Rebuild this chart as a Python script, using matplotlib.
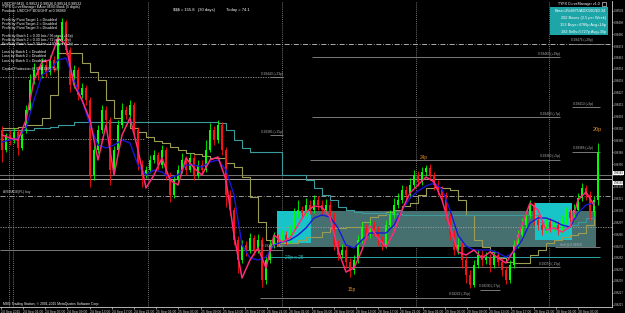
import matplotlib
matplotlib.use("Agg")
import matplotlib.pyplot as plt
from matplotlib.patches import Rectangle

# ---------------- data ----------------
open_first = 0.98390
close = [0.98370,0.98385,0.98380,0.98388,0.98372,0.98390,0.98410,0.98440,0.98450,0.98445,
 0.98455,0.98448,0.98460,0.98452,0.98480,0.98498,0.98470,0.98435,0.98450,0.98425,
 0.98432,0.98420,0.98345,0.98370,0.98390,0.98410,0.98400,0.98350,0.98370,0.98395,
 0.98410,0.98405,0.98415,0.98390,0.98355,0.98345,0.98350,0.98360,0.98365,0.98355,
 0.98370,0.98345,0.98325,0.98340,0.98350,0.98360,0.98350,0.98362,0.98345,0.98355,
 0.98350,0.98370,0.98390,0.98380,0.98395,0.98370,0.98325,0.98310,0.98280,0.98260,
 0.98275,0.98270,0.98282,0.98270,0.98280,0.98240,0.98260,0.98275,0.98282,0.98280,
 0.98285,0.98280,0.98290,0.98305,0.98310,0.98307,0.98315,0.98310,0.98320,0.98315,
 0.98310,0.98315,0.98305,0.98275,0.98265,0.98270,0.98258,0.98250,0.98260,0.98280,
 0.98292,0.98285,0.98295,0.98290,0.98280,0.98275,0.98295,0.98305,0.98315,0.98320,
 0.98330,0.98325,0.98335,0.98345,0.98338,0.98348,0.98352,0.98345,0.98335,0.98330,
 0.98325,0.98305,0.98285,0.98270,0.98275,0.98260,0.98245,0.98235,0.98255,0.98265,
 0.98260,0.98262,0.98255,0.98265,0.98258,0.98250,0.98240,0.98255,0.98275,0.98285,
 0.98295,0.98305,0.98315,0.98300,0.98295,0.98290,0.98298,0.98292,0.98295,0.98290,
 0.98300,0.98308,0.98302,0.98310,0.98322,0.98332,0.98325,0.98308,0.98320,0.98368]
high = [0.98394,0.98387,0.98390,0.98392,0.98391,0.98393,0.98415,0.98446,0.98457,0.98454,
 0.98462,0.98460,0.98465,0.98464,0.98485,0.98502,0.98500,0.98473,0.98455,0.98453,
 0.98437,0.98435,0.98423,0.98375,0.98395,0.98415,0.98414,0.98403,0.98374,0.98400,
 0.98417,0.98414,0.98420,0.98418,0.98393,0.98360,0.98354,0.98365,0.98370,0.98368,
 0.98375,0.98373,0.98348,0.98344,0.98355,0.98367,0.98364,0.98367,0.98365,0.98360,
 0.98360,0.98380,0.98397,0.98394,0.98400,0.98398,0.98373,0.98330,0.98313,0.98284,
 0.98280,0.98279,0.98287,0.98285,0.98286,0.98283,0.98265,0.98280,0.98288,0.98286,
 0.98290,0.98289,0.98295,0.98312,0.98320,0.98314,0.98322,0.98320,0.98325,0.98324,
 0.98320,0.98321,0.98319,0.98308,0.98280,0.98276,0.98274,0.98262,0.98265,0.98285,
 0.98298,0.98296,0.98300,0.98299,0.98294,0.98284,0.98300,0.98310,0.98322,0.98327,
 0.98335,0.98334,0.98342,0.98350,0.98349,0.98353,0.98355,0.98356,0.98348,0.98340,
 0.98334,0.98328,0.98308,0.98290,0.98282,0.98278,0.98264,0.98250,0.98260,0.98270,
 0.98270,0.98268,0.98266,0.98270,0.98268,0.98262,0.98254,0.98260,0.98280,0.98290,
 0.98302,0.98310,0.98320,0.98318,0.98305,0.98300,0.98303,0.98302,0.98300,0.98299,
 0.98305,0.98313,0.98311,0.98316,0.98327,0.98337,0.98335,0.98329,0.98324,0.98377]
low = [0.98358,0.98368,0.98375,0.98377,0.98365,0.98370,0.98387,0.98408,0.98436,0.98440,
 0.98442,0.98443,0.98445,0.98448,0.98450,0.98476,0.98465,0.98428,0.98432,0.98420,
 0.98422,0.98415,0.98333,0.98340,0.98367,0.98387,0.98394,0.98335,0.98346,0.98368,
 0.98392,0.98401,0.98402,0.98386,0.98350,0.98333,0.98342,0.98347,0.98357,0.98350,
 0.98352,0.98340,0.98318,0.98322,0.98337,0.98347,0.98345,0.98348,0.98340,0.98342,
 0.98346,0.98348,0.98368,0.98375,0.98377,0.98365,0.98313,0.98305,0.98275,0.98247,
 0.98257,0.98264,0.98267,0.98265,0.98267,0.98233,0.98236,0.98257,0.98272,0.98274,
 0.98277,0.98275,0.98277,0.98287,0.98302,0.98302,0.98304,0.98306,0.98307,0.98310,
 0.98305,0.98307,0.98300,0.98270,0.98260,0.98262,0.98252,0.98243,0.98246,0.98257,
 0.98277,0.98280,0.98282,0.98284,0.98274,0.98270,0.98272,0.98292,0.98302,0.98312,
 0.98317,0.98321,0.98322,0.98332,0.98334,0.98335,0.98344,0.98340,0.98330,0.98325,
 0.98320,0.98300,0.98280,0.98265,0.98266,0.98252,0.98237,0.98232,0.98233,0.98252,
 0.98254,0.98256,0.98248,0.98252,0.98254,0.98244,0.98236,0.98237,0.98252,0.98272,
 0.98282,0.98292,0.98302,0.98295,0.98290,0.98285,0.98287,0.98288,0.98289,0.98285,
 0.98287,0.98296,0.98298,0.98299,0.98307,0.98319,0.98320,0.98300,0.98304,0.98315]

# indicator lines, one value per two bars
ma_fast = [0.98385,0.98382,0.98380,0.98400,0.98440,0.98458,0.98460,0.98482,0.98475,0.98435,
 0.98420,0.98400,0.98360,0.98395,0.98345,0.98385,0.98402,0.98370,0.98332,0.98345,
 0.98362,0.98340,0.98335,0.98362,0.98352,0.98345,0.98360,0.98363,0.98340,0.98285,
 0.98242,0.98260,0.98272,0.98252,0.98285,0.98278,0.98282,0.98295,0.98308,0.98314,
 0.98313,0.98303,0.98270,0.98248,0.98252,0.98270,0.98294,0.98282,0.98273,0.98288,
 0.98310,0.98327,0.98335,0.98343,0.98338,0.98320,0.98293,0.98268,0.98265,0.98270,
 0.98262,0.98268,0.98262,0.98257,0.98270,0.98295,0.98317,0.98310,0.98290,0.98292,
 0.98288,0.98293,0.98320,0.98328,0.98315]
ma_slow = [0.98378,0.98380,0.98382,0.98392,0.98420,0.98445,0.98450,0.98460,0.98462,0.98440,
 0.98420,0.98395,0.98375,0.98372,0.98375,0.98380,0.98377,0.98355,0.98345,0.98350,
 0.98348,0.98342,0.98345,0.98355,0.98355,0.98353,0.98358,0.98360,0.98350,0.98325,
 0.98275,0.98262,0.98260,0.98263,0.98275,0.98278,0.98280,0.98285,0.98292,0.98302,
 0.98305,0.98303,0.98292,0.98275,0.98272,0.98280,0.98287,0.98287,0.98287,0.98295,
 0.98310,0.98322,0.98329,0.98334,0.98337,0.98331,0.98310,0.98285,0.98274,0.98270,
 0.98270,0.98270,0.98267,0.98263,0.98268,0.98280,0.98297,0.98302,0.98302,0.98299,
 0.98295,0.98293,0.98307,0.98315,0.98317]
trail_olive = [0.98392,0.98392,0.98393,0.98395,0.98395,0.98402,0.98425,0.98467,0.98467,0.98467,
 0.98457,0.98448,0.98440,0.98420,0.98402,0.98398,0.98392,0.98388,0.98383,0.98379,
 0.98377,0.98373,0.98370,0.98367,0.98366,0.98364,0.98362,0.98362,0.98357,0.98353,
 0.98343,0.98323,0.98298,0.98280,0.98277,0.98277,0.98277,0.98280,0.98283,0.98283,
 0.98288,0.98292,0.98292,0.98293,0.98293,0.98298,0.98303,0.98305,0.98308,0.98310,
 0.98314,0.98317,0.98325,0.98332,0.98333,0.98332,0.98330,0.98320,0.98305,0.98280,
 0.98273,0.98268,0.98262,0.98258,0.98257,0.98257,0.98265,0.98270,0.98277,0.98280,
 0.98283,0.98285,0.98287,0.98295,0.98315]
trail_teal = [0.98390,0.98390,0.98390,0.98390,0.98392,0.98392,0.98393,0.98395,
 0.98395,0.98398,0.98398,0.98398,0.98398,
 0.98398,0.98398,0.98398,0.98398,0.98398,0.98398,0.98398,0.98398,0.98398,0.98398,0.98398,0.98398,0.98398,0.98398,
 0.98397,
 0.98390,0.98380,0.98372,0.98368,0.98368,0.98368,0.98368,
 0.98345,0.98345,0.98345,0.98340,0.98332,0.98325,0.98320,0.98313,0.98310,0.98308,0.98307,
 0.98307,0.98307,0.98306,0.98306,0.98305,0.98305,0.98305,0.98305,0.98305,0.98305,0.98305,
 0.98305,0.98305,0.98305,0.98305,0.98305,0.98305,0.98305,0.98305,0.98305,0.98305,
 0.98298,0.98295,0.98293,0.98293,0.98295,0.98298,0.98302,0.98305]

# horizontal price levels
level_prices = [0.98476, 0.98463, 0.98443, 0.98413, 0.98403, 0.98385, 0.98368, 0.98360,
                0.98270, 0.98253, 0.98230, 0.98222]
level_texts = ["0.98476 (+28p)", "0.98463 (+19p)", "0.98443 (+23p)", "0.98413 (+9p)",
               "0.98403 (+7p)", "0.98385 (+15p)", "0.98368 (+2p)", "0.98360 (+5p)",
               "0.98270 (-13p)", "0.98253 (-15p)", "0.98230 (-27p)", "0.98222 (-35p)"]
ref_lines = [0.98345, 0.98341, 0.98324, 0.98293, 0.98381]
price_ticks = [0.98509,0.98498,0.98486,0.98474,0.98462,0.98451,0.98439,0.98427,0.98415,0.98403,
               0.98392,0.98380,0.98368,0.98356,0.98345,0.98333,0.98321,0.98309,0.98297,0.98286,
               0.98274,0.98262,0.98250,0.98239,0.98227,0.98215]
time_labels = ["24 Sep 2015"] + [f"{d} Sep {h}" for d, h in [
    ("24","01:00"),("24","05:00"),("24","09:00"),("24","13:00"),("24","17:00"),("24","21:00"),
    ("25","01:00"),("25","05:00"),("25","09:00"),("25","13:00"),("25","17:00"),("25","21:00"),
    ("28","01:00"),("28","05:00"),("28","09:00"),("28","13:00"),("28","17:00"),("28","21:00"),
    ("29","01:00"),("29","05:00"),("29","09:00"),("29","13:00"),("29","17:00"),("29","21:00"),
    ("30","01:00"),("30","05:00")]]
info_lines = ["USDCHF,M15  0.98521 0.98526 0.98514 0.98522",
              "TYFX CurveManager EA on MSG Bank (5 digits)",
              "Position: USDCHF BOUGHT at 0.98989",
              "", "Profit by Pivot Target 1 = Disabled",
              "Profit by Pivot Target 2 = Disabled",
              "Profit by Pivot Target 3 = Disabled", "",
              "Profit by Batch 1 = 0.30 lots / 36 pips (+16p)",
              "Profit by Batch 2 = 0.30 lots / 72 pips (+0p)",
              "Profit by Batch 3 = 0.30 lots / 120 pips (+0p)", "",
              "Loss by Batch 1 = Disabled", "Loss by Batch 2 = Disabled",
              "Loss by Batch 3 = Disabled", "",
              "Capital Protection @ 0.98330 (-5p)"]
box_lines = ["Base=25cM75/ADX100/$0.34", "202 Boxes (2.5 per Week)",
             "153 Buys=4786p Avg+14p", "182 Sells=5727p Avg+30p"]

# ---------------- layout ----------------
W, H = 625, 313
plt.rcParams['font.family'] = ['Liberation Sans', 'DejaVu Sans']
fig = plt.figure(figsize=(W / 100, H / 100), dpi=100, facecolor="black")
ax = fig.add_axes([0, 6 / H, 612 / W, 306 / H], facecolor="black")
FS = 2.6

def px(xp):      # pixel x -> bar coordinate
    return (xp - 2) / 4.0

def py(yp):      # pixel y -> price
    return 0.98520 - yp / 100000.0

ax.set_xlim(px(0), px(612))
ax.set_ylim(py(307), py(1))

n = len(close)
opens = [open_first] + close[:-1]

# day separators
for xp in [9, 13, 148, 282, 416, 549]:
    ax.axvline(px(xp), color="#9a9a9a", lw=0.6, ls=(0, (1, 1.5)), zorder=1)

# boxes
ax.add_patch(Rectangle((px(277), py(247)), px(596) - px(277), py(211) - py(247),
                       facecolor="#46706f", edgecolor="none", zorder=1.5))
ax.add_patch(Rectangle((px(277), py(243)), px(311) - px(277), py(211) - py(243),
                       facecolor="#19c4c8", edgecolor="none", zorder=1.6))
ax.add_patch(Rectangle((px(535), py(240)), px(572) - px(535), py(203) - py(240),
                       facecolor="#19c4c8", edgecolor="none", zorder=1.6))

# reference lines
ax.axhline(level_prices[0], color="#c8c8c8", lw=0.6, ls=(0, (6, 2, 1, 2)), zorder=2)
ax.axhline(ref_lines[0], color="#8a8a8a", lw=0.6, zorder=2)
ax.axhline(ref_lines[1], color="#bdbdbd", lw=0.6, zorder=2)
ax.axhline(ref_lines[2], color="#b0b0b0", lw=0.6, ls=(0, (6, 2, 1, 2)), zorder=2)
ax.axhline(ref_lines[3], color="#a0a0a0", lw=0.6, ls=(0, (1.5, 1.5)), zorder=2)
ax.hlines(level_prices[2], px(0), px(283), color="#a0a0a0", lw=0.6, ls=(0, (1.5, 1.5)), zorder=2)
ax.hlines(ref_lines[4], px(0), px(145), color="#a0a0a0", lw=0.6, ls=(0, (1.5, 1.5)), zorder=2)

segs = [(570, 604), (312, 560), (270, 283), (572, 600), (312, 560), (270, 283), (572, 600),
        (310, 560), (0, 283), (310, 560), (480, 500), (260, 470)]
for (x0, x1), p, t in zip(segs, level_prices, level_texts):
    if x0 > 0 or x1 < 600:
        ax.hlines(p, px(x0), px(x1), color="#8c8c8c", lw=0.6, zorder=2)
    right = x1 < 590
    ax.text(px(x1) if right else px(x0 + 1), p + 0.000015, t, color="#b0b0b0",
            fontsize=2.3, ha="right" if right else "left", va="bottom", zorder=6)
ax.hlines(0.98263, px(270), px(600), color="#2aa6a6", lw=0.7, zorder=2)
ax.hlines(0.98273, px(555), px(600), color="#8c8c8c", lw=0.6, zorder=2)
ax.text(px(560), 0.98274, "Sell @ 0.98850", color="#b0b0b0", fontsize=2.3, va="bottom", zorder=6)

# indicator lines
xi = list(range(0, n, 2))
ax.step(xi, trail_olive, where="post", color="#9c9c52", lw=0.8, zorder=3)
ax.step(xi, trail_teal, where="post", color="#3a9a9c", lw=0.8, zorder=3)

# candles
for i in range(n):
    o, c = opens[i], close[i]
    col = "#00ff00" if c >= o else "#ff1010"
    ax.vlines(i, low[i], high[i], color=col, lw=0.6, zorder=4)
    ax.bar(i, max(abs(c - o), 0.000012), bottom=min(o, c), width=0.5, color=col,
           edgecolor="none", zorder=4)

ax.plot(xi, ma_slow, color="#1818d8", lw=1.0, zorder=5)
ax.plot(xi, ma_fast, color="#ff2a78", lw=1.1, zorder=5)

# annotations
ax.text(px(424), py(160), "24p", color="#e8902a", fontsize=3.4, ha="center", va="bottom", zorder=7)
ax.text(px(352), py(287), "15p", color="#e8902a", fontsize=3.4, ha="center", va="top", zorder=7)
ax.text(px(597), py(132), "20p", color="#e8902a", fontsize=4.0, ha="center", va="bottom", zorder=7)
ax.text(px(285), py(255), "29p x 25", color="#2ab8bc", fontsize=3.4, va="top", zorder=7)
ax.text(px(3), py(194), "AVERAGE(PL) buy", color="#c8c8c8", fontsize=2.3, va="bottom", zorder=7)

# axes styling
for s in ["top", "left"]:
    ax.spines[s].set_visible(False)
for s in ["right", "bottom"]:
    ax.spines[s].set_color("#d0d0d0")
    ax.spines[s].set_linewidth(0.6)
ax.yaxis.tick_right()
ax.set_yticks(price_ticks)
ax.set_yticklabels([f"{v:.5f}" for v in price_ticks])
tick_px = [1] + [23 + 22.2 * k for k in range(len(time_labels) - 1)]
ax.set_xticks([px(t) for t in tick_px])
ax.set_xticklabels(time_labels)
for lbl in ax.get_xticklabels():
    lbl.set_horizontalalignment("left")
ax.tick_params(axis="x", colors="#d0d0d0", labelsize=2.4, length=1.2, width=0.5, pad=0.6)
ax.tick_params(axis="y", colors="#d0d0d0", labelsize=2.0, length=1.0, width=0.5, pad=0.4)

# current price tag on axis (sits over the axis labels, as in the terminal)
for p, t in [(0.98347, "0.98343"), (0.98337, "0.98339")]:
    ax.text(1.0025, p, t, transform=ax.get_yaxis_transform(), fontsize=1.9, color="black",
            va="center", ha="left", zorder=9, clip_on=False,
            bbox=dict(boxstyle="square,pad=0.1", fc="white", ec="none"))

# overlay texts (figure pixel coordinates)
def ftext(xp, yp, s, **kw):
    fig.text(xp / W, 1 - yp / H, s, **kw)

for k, s in enumerate(info_lines):
    if s:
        ftext(2, 3.2 + 4.1 * k, s, color="white", fontsize=FS, va="center", ha="left")
ftext(173, 10, "$$$ = 155.8   (30 days)          Today = 74.1", color="white", fontsize=3.0,
      va="center")
ftext(600, 3.5, "TYFX CurveManager v1.0", color="white", fontsize=2.6, va="center", ha="right")
fig.patches.append(Rectangle((602 / W, 1 - 6 / H), 4 / W, 4 / H, transform=fig.transFigure,
                             fill=False, ec="white", lw=0.4))
fig.patches.append(Rectangle((550 / W, 1 - 35 / H), 58 / W, 28 / H, transform=fig.transFigure,
                             fc="#1ea5a8", ec="none"))
for k, s in enumerate(box_lines):
    ftext(606, 11 + 7 * k, s, color="white", fontsize=2.8, va="center", ha="right")
ftext(3, 304, "MSG Trading Station, © 2001-2015 MetaQuotes Software Corp.", color="white",
      fontsize=2.4, va="center")

fig.savefig("out.png", dpi=100, facecolor="black")
